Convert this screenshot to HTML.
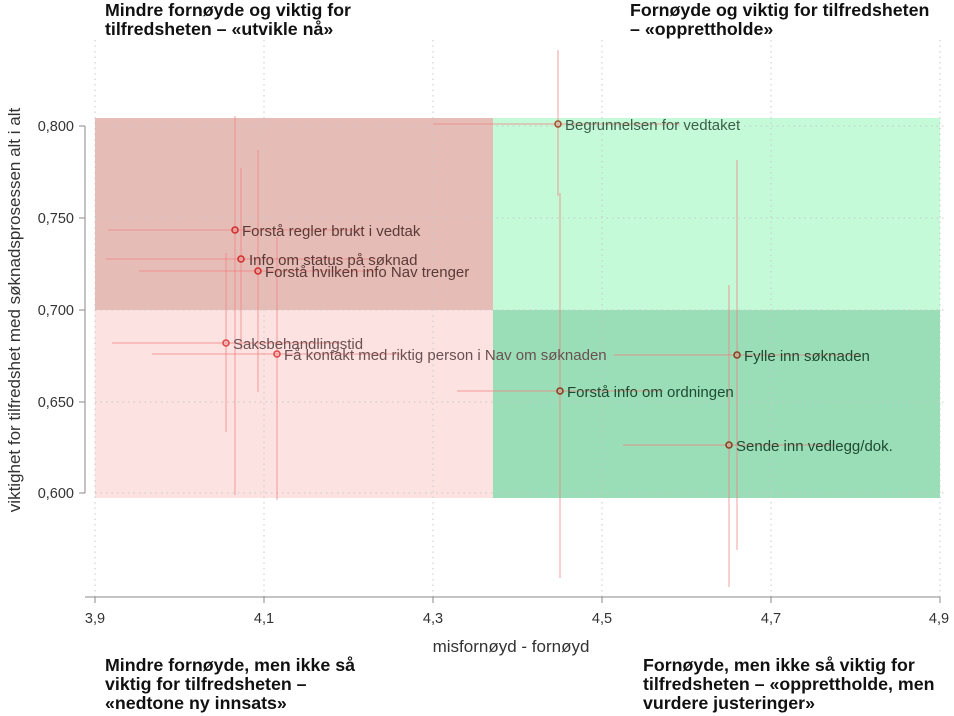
<!DOCTYPE html>
<html><head><meta charset="utf-8"><style>body{margin:0;background:#fff}svg{display:block;font-family:"Liberation Sans",sans-serif}</style></head><body>
<svg width="954" height="716" viewBox="0 0 954 716">
<rect x="95" y="118" width="398" height="192" fill="#e6bcb6"/>
<rect x="95" y="310" width="398" height="188" fill="#fde2e2"/>
<rect x="493" y="118" width="447" height="192" fill="#c5fad9"/>
<rect x="493" y="310" width="447" height="188" fill="#9adeb8"/>
<g stroke="#c8c8c8" stroke-dasharray="1.5,4" stroke-width="1">
<line x1="95" y1="40" x2="95" y2="597"/><line x1="264" y1="40" x2="264" y2="597"/><line x1="433" y1="40" x2="433" y2="597"/><line x1="602" y1="40" x2="602" y2="597"/><line x1="771" y1="40" x2="771" y2="597"/><line x1="940" y1="40" x2="940" y2="597"/>
<line x1="95" y1="126" x2="945" y2="126"/><line x1="95" y1="218" x2="945" y2="218"/><line x1="95" y1="310" x2="945" y2="310"/><line x1="95" y1="402" x2="945" y2="402"/><line x1="95" y1="493" x2="945" y2="493"/>
</g>
<g stroke="#f08080" stroke-opacity="0.5" stroke-width="1.5">
<line x1="558" y1="50" x2="558" y2="196"/><line x1="433" y1="124" x2="680" y2="124"/>
<line x1="235" y1="116" x2="235" y2="495"/><line x1="108" y1="230" x2="362" y2="230"/>
<line x1="241" y1="168" x2="241" y2="350"/><line x1="106" y1="259" x2="376" y2="259"/>
<line x1="258" y1="150" x2="258" y2="392"/><line x1="139" y1="271" x2="377" y2="271"/>
<line x1="226" y1="253" x2="226" y2="432"/><line x1="112" y1="343" x2="340" y2="343"/>
<line x1="277" y1="237" x2="277" y2="500"/><line x1="152" y1="354" x2="402" y2="354"/>
<line x1="737" y1="160" x2="737" y2="550"/><line x1="614" y1="355" x2="860" y2="355"/>
<line x1="560" y1="193" x2="560" y2="578"/><line x1="457" y1="391" x2="663" y2="391"/>
<line x1="729" y1="285" x2="729" y2="587"/><line x1="623" y1="445" x2="835" y2="445"/>
</g>
<g fill="none" stroke-width="1.6">
<circle cx="558" cy="124" r="3" stroke="#a0522d"/>
<circle cx="235" cy="230" r="3" stroke="#d03030"/>
<circle cx="241" cy="259" r="3" stroke="#d03030"/>
<circle cx="258" cy="271" r="3" stroke="#d03030"/>
<circle cx="226" cy="343" r="3" stroke="#e04848"/>
<circle cx="277" cy="354" r="3" stroke="#e04848"/>
<circle cx="737" cy="355" r="3" stroke="#8a4020"/>
<circle cx="560" cy="391" r="3" stroke="#8a4020"/>
<circle cx="729" cy="445" r="3" stroke="#8a4020"/>
</g>
<g font-size="15">
<text x="565" y="130" fill="#3a6048">Begrunnelsen for vedtaket</text>
<text x="242" y="236" fill="#5a3a36">Forstå regler brukt i vedtak</text>
<text x="249" y="265" fill="#5a3a36">Info om status på søknad</text>
<text x="265" y="277" fill="#5a3a36">Forstå hvilken info Nav trenger</text>
<text x="233" y="349" fill="#6a5050">Saksbehandlingstid</text>
<text x="284" y="360" fill="#6a5050">Få kontakt med riktig person i Nav om søknaden</text>
<text x="744" y="361" fill="#1e4a30">Fylle inn søknaden</text>
<text x="567" y="397" fill="#1e4a30">Forstå info om ordningen</text>
<text x="736" y="451" fill="#1e4a30">Sende inn vedlegg/dok.</text>
</g>
<g stroke="#888" stroke-width="1">
<line x1="85" y1="597" x2="940" y2="597"/>
<line x1="85" y1="126" x2="85" y2="493"/>
<line x1="95" y1="597" x2="95" y2="603"/><line x1="264" y1="597" x2="264" y2="603"/><line x1="433" y1="597" x2="433" y2="603"/><line x1="602" y1="597" x2="602" y2="603"/><line x1="771" y1="597" x2="771" y2="603"/><line x1="940" y1="597" x2="940" y2="603"/>
<line x1="79" y1="126" x2="85" y2="126"/><line x1="79" y1="218" x2="85" y2="218"/><line x1="79" y1="310" x2="85" y2="310"/><line x1="79" y1="402" x2="85" y2="402"/><line x1="79" y1="493" x2="85" y2="493"/>
</g>
<g font-size="14.5" fill="#333" text-anchor="middle">
<text x="95" y="623">3,9</text><text x="264" y="623">4,1</text><text x="433" y="623">4,3</text><text x="602" y="623">4,5</text><text x="771" y="623">4,7</text><text x="939" y="623">4,9</text>
</g>
<g font-size="14.5" fill="#333" text-anchor="end">
<text x="74" y="131">0,800</text><text x="74" y="223">0,750</text><text x="74" y="315">0,700</text><text x="74" y="407">0,650</text><text x="74" y="498">0,600</text>
</g>
<text x="511" y="652" font-size="17" fill="#333" text-anchor="middle">misfornøyd - fornøyd</text>
<text transform="translate(20,310) rotate(-90)" font-size="17" fill="#333" text-anchor="middle">viktighet for tilfredshet med søknadsprosessen alt i alt</text>
<g font-size="17.8" font-weight="bold" fill="#111">
<text x="105" y="16">Mindre fornøyde og viktig for</text><text x="105" y="35">tilfredsheten – «utvikle nå»</text>
<text x="630" y="16">Fornøyde og viktig for tilfredsheten</text><text x="630" y="35">– «opprettholde»</text>
<text x="105" y="671">Mindre fornøyde, men ikke så</text><text x="105" y="690">viktig for tilfredsheten –</text><text x="105" y="709">«nedtone ny innsats»</text>
<text x="643" y="671">Fornøyde, men ikke så viktig for</text><text x="643" y="690">tilfredsheten – «opprettholde, men</text><text x="643" y="709">vurdere justeringer»</text>
</g>
</svg>
</body></html>
